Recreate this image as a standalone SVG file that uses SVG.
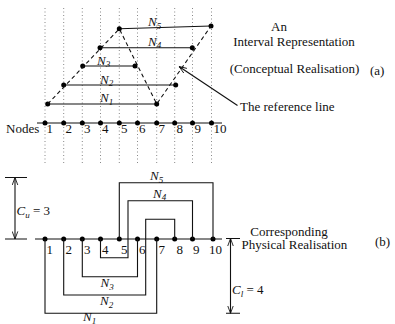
<svg xmlns="http://www.w3.org/2000/svg" width="395" height="324" viewBox="0 0 395 324">
<style>
text{font-family:"Liberation Serif","Times New Roman",serif;font-size:13px;fill:#111}
.it{font-style:italic}
.sub{font-size:9px;font-style:italic}
.dot{stroke:#888;stroke-width:1;stroke-dasharray:1 2.5;fill:none}
.ln{stroke:#111;stroke-width:1.1;fill:none}
.dash{stroke:#111;stroke-width:1.1;stroke-dasharray:4 3;fill:none}
.nd{fill:#000}
</style>
<defs>
<marker id="arr" viewBox="0 0 10 8" refX="9.5" refY="4" markerWidth="8" markerHeight="7" markerUnits="userSpaceOnUse" orient="auto-start-reverse">
<path d="M0,0.5 L9.5,4 L0,7.5" fill="none" stroke="#111" stroke-width="1.1"/>
</marker>
</defs>

<g id="grid">
<path class="dot" d="M45,8V165M63.7,8V165M82.3,8V165M100.5,8V165M119.3,8V165M137.5,8V165M156.7,8V165M174.7,8V165M192.5,8V165M211.5,8V165"/>
</g>

<g id="axis-a">
<line class="ln" x1="37" y1="123" x2="222" y2="123"/>
<g class="nd">
<circle cx="45" cy="123" r="2.5"/><circle cx="63.7" cy="123" r="2.5"/><circle cx="82.3" cy="123" r="2.5"/><circle cx="100.5" cy="123" r="2.5"/><circle cx="119.3" cy="123" r="2.5"/><circle cx="137.5" cy="123" r="2.5"/><circle cx="156.7" cy="123" r="2.5"/><circle cx="174.7" cy="123" r="2.5"/><circle cx="192.5" cy="123" r="2.5"/><circle cx="211.5" cy="123" r="2.5"/>
</g>
<text x="6" y="133">Nodes</text>
<text x="46.5" y="133">1</text><text x="65.5" y="133">2</text><text x="84" y="133">3</text><text x="102" y="133">4</text><text x="121" y="133">5</text><text x="139" y="133">6</text><text x="158.5" y="133">7</text><text x="176.5" y="133">8</text><text x="194.5" y="133">9</text><text x="213.5" y="133">10</text>
</g>

<g id="interval-N1">
<line class="ln" x1="47.7" y1="104" x2="156.7" y2="104"/>
<circle class="nd" cx="47.7" cy="104" r="2.5"/><circle class="nd" cx="156.7" cy="104" r="2.5"/>
<text x="100" y="102" class="it">N<tspan class="sub" dy="2.5">1</tspan></text>
</g>
<g id="interval-N2">
<line class="ln" x1="63.7" y1="85" x2="175.7" y2="85"/>
<circle class="nd" cx="63.7" cy="85" r="2.5"/><circle class="nd" cx="175.7" cy="85" r="2.5"/>
<text x="100" y="83.5" class="it">N<tspan class="sub" dy="2.5">2</tspan></text>
</g>
<g id="interval-N3">
<line class="ln" x1="82.7" y1="66" x2="135" y2="66"/>
<circle class="nd" cx="82.7" cy="66" r="2.5"/><circle class="nd" cx="135" cy="66" r="2.5"/>
<text x="97" y="64.5" class="it">N<tspan class="sub" dy="2.5">3</tspan></text>
</g>
<g id="interval-N4">
<line class="ln" x1="100" y1="47.7" x2="192.3" y2="47.7"/>
<circle class="nd" cx="100" cy="47.7" r="2.5"/><circle class="nd" cx="192.3" cy="47.7" r="2.5"/>
<text x="148" y="45.5" class="it">N<tspan class="sub" dy="2.5">4</tspan></text>
</g>
<g id="interval-N5">
<line class="ln" x1="119.3" y1="28.8" x2="211" y2="26"/>
<circle class="nd" cx="119.3" cy="28.8" r="2.5"/><circle class="nd" cx="211" cy="26" r="2.5"/>
<text x="148" y="26" class="it">N<tspan class="sub" dy="2.5">5</tspan></text>
</g>

<g id="connectors">
<path class="dash" d="M47.7,104 L119.3,28.8 L156.7,104 L211,26"/>
<line class="ln" x1="237.5" y1="105.5" x2="179" y2="66.5" marker-end="url(#arr)"/>
<line class="ln" x1="15" y1="177.5" x2="15" y2="239" marker-start="url(#arr)" marker-end="url(#arr)"/>
<line class="ln" x1="230.5" y1="238.5" x2="230.5" y2="313.3" marker-start="url(#arr)" marker-end="url(#arr)"/>
</g>

<g id="labels-a">
<text x="279" y="31" text-anchor="middle">An</text>
<text x="294" y="46" text-anchor="middle">Interval Representation</text>
<text x="294.5" y="72.5" text-anchor="middle">(Conceptual Realisation)</text>
<text x="370" y="74.5">(a)</text>
<text x="240" y="111">The reference line</text>
</g>

<g id="axis-b">
<line class="ln" x1="35" y1="239" x2="222" y2="239"/>
<g class="nd">
<circle cx="45" cy="239" r="2.5"/><circle cx="63.7" cy="239" r="2.5"/><circle cx="82.3" cy="239" r="2.5"/><circle cx="100.5" cy="239" r="2.5"/><circle cx="119.3" cy="239" r="2.5"/><circle cx="137.5" cy="239" r="2.5"/><circle cx="156.7" cy="239" r="2.5"/><circle cx="174.7" cy="239" r="2.5"/><circle cx="192.5" cy="239" r="2.5"/><circle cx="213" cy="239" r="2.5"/>
</g>
<text x="46.5" y="254">1</text><text x="65.5" y="254">2</text><text x="84" y="254">3</text><text x="102" y="254">4</text><text x="121" y="254">5</text><text x="139" y="254">6</text><text x="158.5" y="254">7</text><text x="176.5" y="254">8</text><text x="193" y="254">9</text><text x="209" y="254">10</text>
</g>

<g id="net-N5">
<path class="ln" d="M119.3,239V182.7H213V239"/>
<text x="150" y="180" class="it">N<tspan class="sub" dy="2.5">5</tspan></text>
</g>
<g id="net-N4">
<path class="ln" d="M100.5,239V257.7H128V200.7H192.5V239"/>
<text x="153" y="197.5" class="it">N<tspan class="sub" dy="2.5">4</tspan></text>
</g>
<g id="net-N3">
<path class="ln" d="M82.3,239V276.7H137.5V239"/>
<text x="100.5" y="287" class="it">N<tspan class="sub" dy="2.5">3</tspan></text>
</g>
<g id="net-N2">
<path class="ln" d="M63.7,239V295H145.7V219.3H174.7V239"/>
<text x="100" y="305" class="it">N<tspan class="sub" dy="2.5">2</tspan></text>
</g>
<g id="net-N1">
<path class="ln" d="M45,239V313.3H156.7V239"/>
<text x="83" y="321" class="it">N<tspan class="sub" dy="2.5">1</tspan></text>
</g>

<g id="dims">
<path class="ln" d="M5,177.5H27M5,239H27M226,238.5H240M226,313.3H240"/>
<text x="16.5" y="215"><tspan class="it">C</tspan><tspan class="sub" dy="2.5">u</tspan><tspan dy="-2.5"> = 3</tspan></text>
<text x="232" y="294"><tspan class="it">C</tspan><tspan class="sub" dy="2.5">l</tspan><tspan dy="-2.5"> = 4</tspan></text>
</g>

<g id="labels-b">
<text x="289" y="235.5" text-anchor="middle">Corresponding</text>
<text x="241.5" y="249">Physical Realisation</text>
<text x="375" y="245.5">(b)</text>
</g>
</svg>
